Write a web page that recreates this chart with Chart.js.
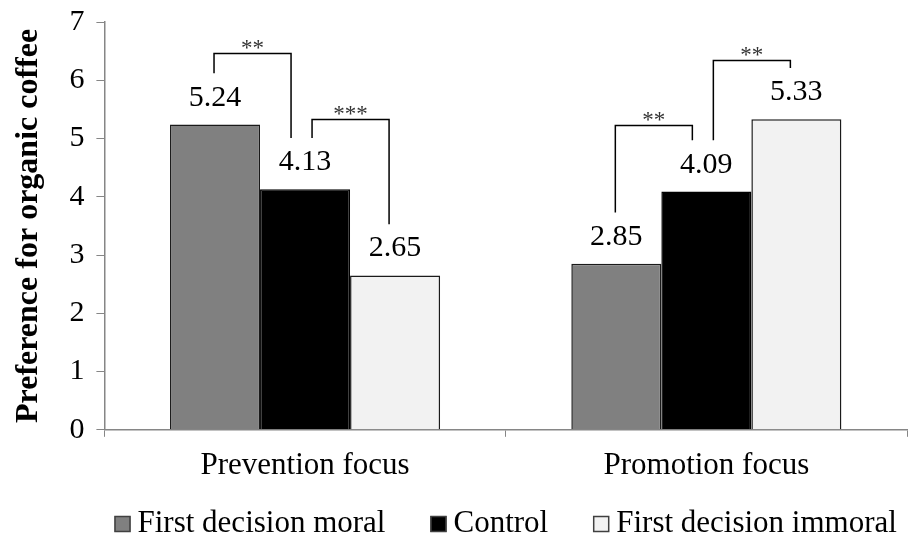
<!DOCTYPE html>
<html>
<head>
<meta charset="utf-8">
<script src="https://cdn.jsdelivr.net/npm/chart.js@4.4.1/dist/chart.umd.min.js"></script>
<style>
  html, body { margin: 0; padding: 0; background: #fff; }
  #wrap { width: 909px; height: 545px; }
</style>
</head>
<body>
<div id="wrap"><canvas id="prefChart"></canvas></div>
<script>
var categories = ["Prevention focus", "Promotion focus"];
var moralValues = [5.24, 2.85];
var controlValues = [4.13, 4.09];
var immoralValues = [2.65, 5.33];
var yTicks = [0, 1, 2, 3, 4, 5, 6, 7];

// significance brackets: category, first bar, second bar, bracket height, stars
var sigCategory = [0, 0, 1, 1];
var sigFrom = [0, 1, 0, 1];
var sigTo = [1, 2, 1, 2];
var sigTop = [6.47, 5.33, 5.23, 6.35];
var sigStars = ["**", "***", "**", "**"];

var serif = "'Liberation Serif', 'Times New Roman', serif";

var barLabels = {
    id: "barLabels",
    afterDatasetsDraw: function(chart) {
        var ctx = chart.ctx;
        ctx.save();
        ctx.fillStyle = "#000";
        ctx.font = "30px " + serif;
        ctx.textAlign = "center";
        ctx.textBaseline = "alphabetic";
        chart.data.datasets.forEach(function(ds, di) {
            var meta = chart.getDatasetMeta(di);
            meta.data.forEach(function(bar, i) {
                ctx.fillText(ds.data[i].toFixed(2), bar.x, bar.y - 19);
            });
        });
        ctx.restore();
    }
};

var brackets = {
    id: "brackets",
    afterDatasetsDraw: function(chart) {
        var ctx = chart.ctx;
        var y = chart.scales.y;
        ctx.save();
        ctx.strokeStyle = "#000";
        ctx.lineWidth = 1.5;
        for (var k = 0; k < sigStars.length; k++) {
            var c = sigCategory[k];
            var a = chart.getDatasetMeta(sigFrom[k]).data[c];
            var b = chart.getDatasetMeta(sigTo[k]).data[c];
            var va = chart.data.datasets[sigFrom[k]].data[c];
            var vb = chart.data.datasets[sigTo[k]].data[c];
            // legs stop just above the value labels
            var legA = va + 0.88, legB = vb + 0.88;
            var xa = a.x + (sigFrom[k] === 1 ? 7 : -1);
            var xb = b.x - (sigTo[k] === 1 ? 14 : 6);
            var yt = Math.round(y.getPixelForValue(sigTop[k])) + 0.5;
            ctx.beginPath();
            ctx.moveTo(xa, y.getPixelForValue(legA));
            ctx.lineTo(xa, yt);
            ctx.lineTo(xb, yt);
            ctx.lineTo(xb, y.getPixelForValue(legB));
            ctx.stroke();
            ctx.fillStyle = "#333";
            ctx.font = "23px " + serif;
            ctx.textAlign = "center";
            ctx.textBaseline = "alphabetic";
            ctx.fillText(sigStars[k], (xa + xb) / 2, yt + 1);
        }
        ctx.restore();
    }
};

// legend drawn under the plot, centred on the plot area
var bottomLegend = {
    id: "bottomLegend",
    afterDraw: function(chart) {
        var ctx = chart.ctx;
        var area = chart.chartArea;
        var box = 16, gap = 7, itemGap = 45, baseline = 532;
        ctx.save();
        ctx.font = "31px " + serif;
        var items = chart.data.datasets.map(function(ds) {
            return { text: ds.label, fill: ds.backgroundColor, w: ctx.measureText(ds.label).width };
        });
        var total = 0;
        items.forEach(function(it, i) {
            total += box + gap + it.w + (i > 0 ? itemGap : 0);
        });
        var x = (area.left + area.right) / 2 - total / 2;
        items.forEach(function(it) {
            ctx.fillStyle = it.fill;
            ctx.fillRect(x, baseline - box, box, box);
            ctx.strokeStyle = "#404040";
            ctx.lineWidth = 1.5;
            ctx.strokeRect(x + 0.5, baseline - box + 0.5, box - 1, box - 1);
            ctx.fillStyle = "#000";
            ctx.textAlign = "left";
            ctx.textBaseline = "alphabetic";
            ctx.fillText(it.text, x + box + gap, baseline);
            x += box + gap + it.w + itemGap;
        });
        ctx.restore();
    }
};

new Chart(document.getElementById("prefChart"), {
    type: "bar",
    data: {
        labels: categories,
        datasets: [{
            label: "First decision moral",
            data: moralValues,
            backgroundColor: "#808080",
            borderColor: "#1a1a1a",
            borderWidth: 1.5
        }, {
            label: "Control",
            data: controlValues,
            backgroundColor: "#000000",
            borderColor: "#000",
            borderWidth: 1.5
        }, {
            label: "First decision immoral",
            data: immoralValues,
            backgroundColor: "#f2f2f2",
            borderColor: "#1a1a1a",
            borderWidth: 1.5
        }]
    },
    options: {
        responsive: true,
        maintainAspectRatio: false,
        animation: false,
        categoryPercentage: 0.673,
        barPercentage: 1.0,
        layout: { padding: { top: 0, right: 2, left: 10, bottom: 51 } },
        plugins: {
            tooltip: { enabled: false },
            legend: { display: false }
        },
        scales: {
            x: {
                grid: { display: true, drawOnChartArea: false, drawTicks: true, tickLength: 7, color: "#868686", offset: true },
                border: { color: "#868686", width: 1.5 },
                ticks: { color: "#000", font: { family: serif, size: 31 }, padding: 10 }
            },
            y: {
                min: 0,
                max: 7,
                afterBuildTicks: function(axis) {
                    axis.ticks = yTicks.map(function(v) { return { value: v }; });
                },
                grid: { display: true, drawOnChartArea: false, drawTicks: true, tickLength: 8, color: "#868686" },
                border: { color: "#868686", width: 1.5 },
                ticks: { color: "#000", font: { family: serif, size: 30, lineHeight: 0.67 }, padding: 12 },
                title: {
                    display: true,
                    text: "Preference for organic coffee",
                    color: "#000",
                    font: { family: serif, size: 32, weight: "bold" },
                    padding: { top: 0, bottom: 9 }
                }
            }
        }
    },
    plugins: [barLabels, brackets, bottomLegend]
});
</script>
</body>
</html>
